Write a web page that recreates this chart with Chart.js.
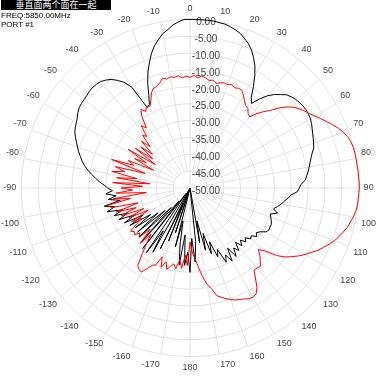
<!DOCTYPE html>
<html><head><meta charset="utf-8">
<script src="https://cdn.jsdelivr.net/npm/chart.js@4/dist/chart.umd.min.js"></script>
<style>
html,body{margin:0;padding:0;background:#fff;}
#wrap{position:relative;width:378px;height:378px;}
#title{position:absolute;left:1px;top:0;width:110px;height:10px;background:#000;color:#fff;font:9px "Noto Sans CJK SC";line-height:10px;text-align:center;overflow:hidden;}
.info{position:absolute;left:1px;font:8px "Liberation Sans",Arial,sans-serif;color:#000;line-height:9px;}
</style></head><body>
<div id="wrap"><canvas id="c" width="378" height="378"></canvas>
<div id="title">垂直面两个面在一起</div>
<div class="info" style="top:11px">FREQ:5850.00MHz</div>
<div class="info" style="top:20px">PORT #1</div>
</div>
<script>
// angle categories (deg, clockwise from top), 2-degree steps
const angles = Array.from({length:180}, (_, i) => i * 2);
// radial tick values (dB)
const radialTicks = [0,-5,-10,-15,-20,-25,-30,-35,-40,-45,-50];

// black trace (dB) at angles 0..358
const blackDb = [
 0,0,0,0,0,-0.2,-0.3,-0.7,-1.2,-1.8,
 -2.8,-3.8,-5.2,-7,-9,-11.6,-14.5,-17.5,-19,-16.5,
 -14.3,-12.7,-11.5,-10.2,-9.6,-9.1,-8.8,-8.6,-8.5,-8.6,
 -8.8,-9.2,-9.7,-10.2,-10.6,-11,-11.4,-12.3,-13,-13.6,
 -14.1,-14.6,-15.2,-15.7,-17,-17.6,-18.2,-20,-20.8,-21.8,
 -22.5,-23.5,-24.5,-23,-25,-24.5,-24,-23.6,-23.6,-23.5,
 -24,-25.5,-26.3,-25.5,-27,-26.5,-28,-27,-28.5,-27,
 -29,-26.5,-28,-25.5,-29,-25,-27.5,-25.5,-30,-28,
 -33,-29.5,-36,-31,-40,-33.5,-50,-34,-28,-35,
 -25,-31,-27,-36,-27,-33,-40,-32,-50,-36,
 -50,-33,-45,-30,-50,-28,-35,-26.8,-48,-27.2,
 -45,-28,-42,-29,-40,-29.7,-38,-30,-36,-29,
 -34,-28,-32,-27,-30,-26,-29,-24.5,-27,-24,
 -29,-25.5,-28,-25,-27,-25.6,-24.5,-23,-21.8,-20.5,
 -19.2,-18,-17,-16.2,-15.3,-14.5,-13.7,-12.8,-12,-11.5,
 -11.1,-10.6,-9.9,-9.4,-9.2,-9.1,-8.9,-8.6,-8.5,-8.6,
 -8.8,-9.4,-10.2,-11.5,-13,-15.5,-23,-22.5,-20,-16.5,
 -13.5,-11,-8.5,-6.5,-5,-3.5,-2.6,-1.4,-0.6,0
];

// red trace (dB) at angles 0..358
const redDb = [
 -17.2,-16.6,-17.2,-16.6,-17,-17.6,-17.3,-18,-17.6,-17.2,
 -17.4,-16.9,-17.5,-17.1,-17.2,-18.3,-19.5,-20.5,-20.8,-22,
 -22.4,-20.3,-18.5,-16.9,-14.5,-12.6,-11.1,-10,-9.1,-8.3,
 -7.3,-6.1,-5,-3.8,-2.6,-1.6,-0.8,-0.4,-0.1,0,
 0,0,0.1,0.1,0.2,0.2,0.1,0,-0.1,-0.4,
 -0.8,-1.4,-1.9,-2.7,-3.5,-4.4,-5.5,-6.7,-7.8,-9.3,
 -10.6,-12,-13.6,-15.2,-17.5,-21,-22.7,-21.2,-20,-18.8,
 -19,-19.2,-17,-14.5,-13,-12.6,-12.8,-13.4,-13.8,-14.2,
 -14.8,-15.5,-16.3,-17.1,-19.5,-21,-23.5,-26.5,-29,-31,
 -34,-27,-30,-26,-28.5,-25.7,-27,-26,-25,-27,
 -25,-28,-25,-24.5,-23,-21.2,-21.5,-22.3,-26,-29,
 -32,-28,-33,-29,-30,-28.5,-29,-28.2,-31,-33,
 -30,-36,-30,-35,-28,-33,-27,-34,-26,-25,
 -32,-27,-37,-28,-33,-29.6,-36,-27,-38,-28,
 -34,-26.3,-30,-27,-36,-25.3,-32,-30,-38,-31.4,
 -35,-28.3,-37.6,-30,-36,-31,-35,-30,-33,-29,
 -30,-26.5,-28,-24.5,-22.5,-23.8,-22.5,-23,-21.5,-19.5,
 -18.5,-18.3,-17.5,-16.4,-17,-16.5,-16.9,-16.5,-17.3,-16.8
];

const gridColor = '#e2e2e2';
const labelColor = '#444';

const tickLabelPlugin = {
  id: 'tickLabelPlugin',
  beforeDatasetsDraw(chart) {
    const s = chart.scales.r, c = chart.ctx;
    c.save();
    // clear radial lines inside the innermost ring, keep the two axes
    const r0 = s.getDistanceFromCenterForValue(-45);
    c.fillStyle = '#fff';
    c.beginPath(); c.arc(s.xCenter, s.yCenter, r0 - 0.8, 0, Math.PI * 2); c.fill();
    c.strokeStyle = gridColor; c.lineWidth = 1;
    c.beginPath();
    c.moveTo(s.xCenter - r0, s.yCenter); c.lineTo(s.xCenter + r0, s.yCenter);
    c.moveTo(s.xCenter, s.yCenter - r0); c.lineTo(s.xCenter, s.yCenter + r0);
    c.stroke();
    c.font = '10px "Liberation Sans", Arial, sans-serif';
    c.fillStyle = labelColor; c.textAlign = 'center'; c.textBaseline = 'middle';
    radialTicks.forEach(v => {
      const d = s.getDistanceFromCenterForValue(v);
      c.fillText(v.toFixed(2), s.xCenter + 16, s.yCenter - d + 3);
    });
    c.restore();
  }
};

new Chart(document.getElementById('c'), {
  type: 'radar',
  data: {
    labels: angles,
    datasets: [
      {label: 'red', data: redDb, borderColor: '#ff0000', borderWidth: 1, pointRadius: 0, fill: false, tension: 0},
      {label: 'black', data: blackDb, borderColor: '#000000', borderWidth: 1, pointRadius: 0, fill: false, tension: 0}
    ]
  },
  options: {
    responsive: false, animation: false, devicePixelRatio: 1,
    layout: {padding: 0},
    plugins: {legend: {display: false}, tooltip: {enabled: false}},
    scales: {
      r: {
        min: -50, max: 0,
        ticks: {stepSize: 5, display: false},
        grid: {color: gridColor, lineWidth: 1, circular: true},
        angleLines: {color: (ctx) => (angles[ctx.index] % 10 === 0 ? gridColor : 'rgba(0,0,0,0)'), lineWidth: 1},
        pointLabels: {
          color: labelColor, padding: 5,
          font: {size: 9, family: '"Liberation Sans", Arial, sans-serif'},
          callback: (l) => (l % 10 === 0 ? String(l > 180 ? l - 360 : l) : '')
        }
      }
    }
  },
  plugins: [tickLabelPlugin]
});
</script>
</body></html>
